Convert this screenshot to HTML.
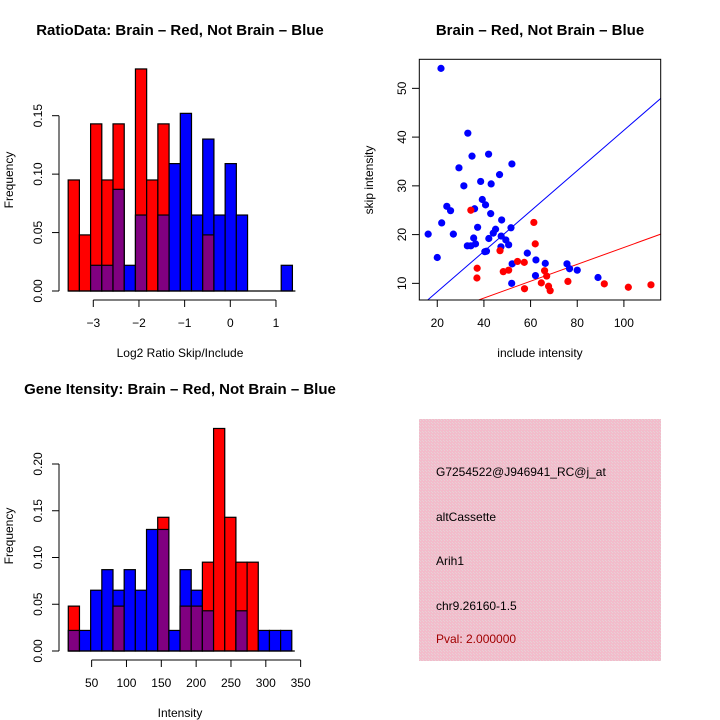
<!DOCTYPE html>
<html><head><meta charset="utf-8"><style>
body{margin:0;background:#fff}
svg{display:block;font-family:"Liberation Sans",sans-serif}
</style></head><body>
<svg id="s" width="720" height="720" viewBox="0 0 720 720">
<defs><pattern id="hatch" width="3" height="3" patternUnits="userSpaceOnUse"><rect width="3" height="3" fill="#f2bccb"/><rect width="1" height="1" fill="#e8d0d6"/><rect x="2" y="2" width="1" height="1" fill="#e8d0d6"/></pattern></defs>
<text x="180" y="35" text-anchor="middle" font-size="15" font-weight="bold">RatioData: Brain – Red, Not Brain – Blue</text>
<text x="540" y="35" text-anchor="middle" font-size="15" font-weight="bold">Brain – Red, Not Brain – Blue</text>
<text x="180" y="394" text-anchor="middle" font-size="15" font-weight="bold">Gene Itensity: Brain – Red, Not Brain – Blue</text>
<g id="h1"></g>
<g id="h2"></g>
<g id="sc"></g>
<g>
<rect x="419" y="419" width="242" height="242" fill="url(#hatch)"/>
<g font-size="12">
<text x="436" y="476">G7254522@J946941_RC@j_at</text>
<text x="436" y="521">altCassette</text>
<text x="436" y="565">Arih1</text>
<text x="436" y="610">chr9.26160-1.5</text>
<text x="436" y="643" fill="#a00000">Pval: 2.000000</text>
</g></g>
</svg>
<script>
const ratioRed=[0.095,0.048,0.143,0.095,0.143,0,0.19,0.095,0.143,0,0,0,0.048,0,0,0,0,0,0,0];
const ratioBlue=[0,0,0.022,0.022,0.087,0.022,0.065,0,0.065,0.109,0.152,0.065,0.130,0.065,0.109,0.065,0,0,0,0.022];
const ratioTicksX=[-3,-2,-1,0,1];
const ratioTicksY=[0,0.05,0.10,0.15];
const intRed=[0.048,0,0,0,0.048,0,0,0,0.143,0,0.048,0.048,0.095,0.238,0.143,0.095,0.095,0,0,0];
const intBlue=[0.022,0.022,0.065,0.087,0.065,0.087,0.065,0.130,0.130,0.022,0.087,0.065,0.043,0,0,0.043,0,0.022,0.022,0.022];
const intTicksX=[50,100,150,200,250,300,350];
const intTicksY=[0,0.05,0.10,0.15,0.20];
const blueX=[21.6,16.1,20,21.9,24.1,25.7,26.9,29.3,31.4,33.1,34.9,42,52,38.6,39.3,43.1,46.7,36,40.7,42.9,37.3,47.6,45,44,35.6,42.1,47.4,51.6,32.9,34.4,36.4,49.4,50.6,47.3,40.4,41.1,52.1,51.9,58.6,62.3,62.1,66.3,75.6,76.7,80,88.9];
const blueY=[54.1,20.1,15.3,22.4,25.8,24.9,20.1,33.7,30,40.8,36.1,36.5,34.5,30.9,27.2,30.4,32.3,25.3,26.1,24.3,21.5,23,21.1,20.3,19.3,19.2,19.7,21.4,17.7,17.7,18.1,18.9,17.9,17.5,16.5,16.6,14,10,16.2,14.8,11.6,14.1,14,13,12.7,11.2];
const redX=[34.4,61.4,62,37.1,37,46.9,48.3,50.6,54.4,57.3,57.4,64.6,66,66.9,67.7,68.4,76,91.6,101.9,111.6];
const redY=[25,22.5,18.1,13.1,11.1,16.7,12.4,12.7,14.5,14.3,8.9,10.1,12.6,11.5,9.4,8.5,10.4,9.9,9.2,9.7];
const scTicksX=[20,40,60,80,100];
const scTicksY=[10,20,30,40,50];
const blueSlope=0.414, blueInt=0, redSlope=0.173, redInt=0.06;

const NS='http://www.w3.org/2000/svg';
function mk(p,t,a){const e=document.createElementNS(NS,t);for(const k in a)e.setAttribute(k,a[k]);p.appendChild(e);return e;}

function hist(g,red,blue,start,w,sx,sy,y0,ticksX,ticksY,axY,xt,yl,lx){
  for(let i=0;i<red.length;i++){
    const a=start+i*w,b=a+w,r=red[i],bl=blue[i];
    const hi=Math.max(r,bl),lo=Math.min(r,bl);
    if(hi>0){const e=mk(g,'rect',{x:sx(a),y:sy(hi),width:sx(b)-sx(a),height:sy(0)-sy(hi),fill:r>bl?'#ff0000':'#0000ff',stroke:'#000','stroke-width':1.2});
      
      }
    if(lo>0){const e=mk(g,'rect',{x:sx(a),y:sy(lo),width:sx(b)-sx(a),height:sy(0)-sy(lo),fill:'#800080',stroke:'#000','stroke-width':1.2});
      
      }
  }
  const bl=mk(g,'line',{x1:sx(start),x2:sx(start+w*red.length)+3,y1:sy(0),y2:sy(0),stroke:'#000','stroke-width':1.2});
  
  
  const xa=mk(g,'line',{x1:sx(ticksX[0]),x2:sx(ticksX[ticksX.length-1]),y1:axY,y2:axY,stroke:'#000'});
  
  
  ticksX.forEach(t=>{mk(g,'line',{x1:sx(t),x2:sx(t),y1:axY,y2:axY+7,stroke:'#000'});
    const tx=mk(g,'text',{x:sx(t),y:axY+27,'text-anchor':'middle','font-size':12});tx.textContent=String(t).replace('-','\u2212');
    
    });
  const ya=mk(g,'line',{x1:59,x2:59,y1:sy(ticksY[0]),y2:sy(ticksY[ticksY.length-1]),stroke:'#000'});
  
  
  ticksY.forEach(t=>{mk(g,'line',{x1:52,x2:59,y1:sy(t),y2:sy(t),stroke:'#000'});
    const tx=mk(g,'text',{x:0,y:0,'text-anchor':'middle','font-size':12,transform:`translate(42,${sy(t)}) rotate(-90)`});tx.textContent=t.toFixed(2);
    
    });
  const t1=mk(g,'text',{x:lx,y:axY+57,'text-anchor':'middle','font-size':12});t1.textContent=xt;
  
  
  const t2=mk(g,'text',{x:0,y:0,'text-anchor':'middle','font-size':12,transform:`translate(13,${yl}) rotate(-90)`});t2.textContent='Frequency';
  
  
}
const g1=document.getElementById('h1');
hist(g1,ratioRed,ratioBlue,-3.55,0.2455,v=>230.3+v*45.67,v=>291-v*1168.7,291,ratioTicksX,ratioTicksY,300,'Log2 Ratio Skip/Include',180,180);
const g2=document.getElementById('h2');
hist(g2,intRed,intBlue,16.5,16.04,v=>56.8+v*0.6967,v=>651-v*935,651,intTicksX,intTicksY,660,'Intensity',536,180);

const sc=document.getElementById('sc');
const X=v=>390.6+v*2.333, Y=v=>332.1-v*4.875;
const cp=mk(sc,'clipPath',{id:'cp'});mk(cp,'rect',{x:419.3,y:59.3,width:241.4,height:240.7});
function line(s,b,c,n){const x0=12.3,x1=115.8;const l=mk(sc,'line',{x1:X(x0),y1:Y(s*x0+b),x2:X(x1),y2:Y(s*x1+b),stroke:c,'stroke-width':1,'clip-path':'url(#cp)'});
  
  }
line(blueSlope,blueInt,'#0000ff','blue-fit-line');
line(redSlope,redInt,'#ff0000','red-fit-line');
blueX.forEach((v,i)=>{const c=mk(sc,'circle',{cx:X(v),cy:Y(blueY[i]),r:3.6,fill:'#0000ff'});
  
  });
redX.forEach((v,i)=>{const c=mk(sc,'circle',{cx:X(v),cy:Y(redY[i]),r:3.6,fill:'#ff0000'});
  
  });
const box=mk(sc,'rect',{x:419.3,y:59.3,width:241.4,height:240.7,fill:'none',stroke:'#000'});


scTicksX.forEach(t=>{mk(sc,'line',{x1:X(t),x2:X(t),y1:300,y2:307,stroke:'#000'});
  const tx=mk(sc,'text',{x:X(t),y:327,'text-anchor':'middle','font-size':12});tx.textContent=t;
  
  });
scTicksY.forEach(t=>{mk(sc,'line',{x1:412,x2:419.3,y1:Y(t),y2:Y(t),stroke:'#000'});
  const tx=mk(sc,'text',{x:0,y:0,'text-anchor':'middle','font-size':12,transform:`translate(406,${Y(t)}) rotate(-90)`});tx.textContent=t;
  
  });
const xt=mk(sc,'text',{x:540,y:357,'text-anchor':'middle','font-size':12});xt.textContent='include intensity';


const yt=mk(sc,'text',{x:0,y:0,'text-anchor':'middle','font-size':12,transform:'translate(373,180) rotate(-90)'});yt.textContent='skip intensity';


</script>
</body></html>
